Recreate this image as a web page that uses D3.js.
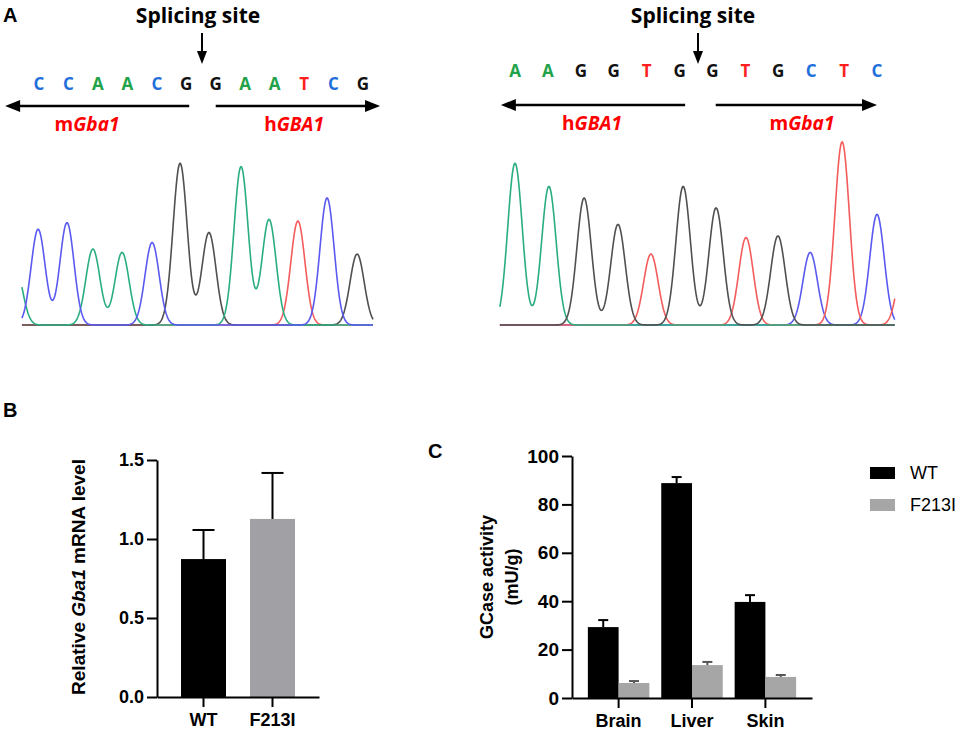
<!DOCTYPE html>
<html>
<head>
<meta charset="utf-8">
<script src="https://cdn.jsdelivr.net/npm/d3@7"></script>
<style>
  body { margin: 0; background: #fff; }
  svg { display: block; }
  .ax path, .ax line { stroke: #000; stroke-width: 2px; }
  .ax text { font-family: "Liberation Sans", Arial, sans-serif; font-weight: bold; fill: #000; }
</style>
</head>
<body>
<svg id="fig" width="962" height="731"></svg>
<script>
// ---- panel A: bases around the two junctions ----
const seqLeft = ["C","C","A","A","C","G","G","A","A","T","C","G"];
const seqRight = ["A","A","G","G","T","G","G","T","G","C","T","C"];
// peak centres (base units) and heights
const peakPosLeft = [-0.03, 0.95, 1.83, 2.82, 3.84, 4.79, 5.77, 6.86, 7.81, 8.79, 9.78, 10.8];
const peakHtLeft = [58, 62, 46, 44, 50, 98, 56, 96, 64, 63, 77, 43];
const peakPosRight = [0, 1.03, 2.1, 3.13, 4.13, 5.11, 6.11, 7.02, 7.99, 8.97, 9.94, 11.0];
const peakHtRight = [98, 84, 77, 61, 43, 84, 71, 53, 54, 44, 111, 67];
// peaks cut off by the edge of each trace
const edgeLeft = [{base: "A", pos: -0.8, ht: 35}];
const edgeRight = [{base: "T", pos: 11.85, ht: 43}];

// ---- panel B ----
const mrnaGroups = ["WT", "F213I"];
const mrnaMean = [0.873, 1.127];
const mrnaErr = [0.184, 0.291];
const mrnaTicks = [0, 0.5, 1.0, 1.5];

// ---- panel C ----
const tissues = ["Brain", "Liver", "Skin"];
const series = ["WT", "F213I"];
const gcaseWT = [29.3, 88.8, 39.7];
const gcaseWTErr = [2.9, 2.5, 2.8];
const gcaseMut = [6.2, 13.6, 8.7];
const gcaseMutErr = [0.8, 1.3, 0.8];
const gcaseTicks = [0, 20, 40, 60, 80, 100];

const svg = d3.select("#fig");
svg.append("rect").attr("width", 962).attr("height", 731).attr("fill", "#fff");

const letterColor = {A: "#22a34a", C: "#1f6fdc", G: "#111", T: "#ff1f1f"};
const traceColor = {A: "#2aae80", C: "#5a5af0", G: "#505050", T: "#f45c5c"};
const labelFont = "'Open Sans', sans-serif";
const axFont = "'Liberation Sans', Arial, sans-serif";

// panel letters
[["A", 3, 22], ["B", 3, 417], ["C", 428, 458]].forEach(function(p) {
    svg.append("text").attr("x", p[1]).attr("y", p[2]).text(p[0])
        .attr("font-family", axFont).attr("font-weight", "bold").attr("font-size", 20);
});

function seqPanel(o) {
    const g = svg.append("g");
    const x = o.x;
    const spliceX = x(5.5);

    g.append("text").attr("x", spliceX - 3).attr("y", 23).attr("text-anchor", "middle")
        .attr("font-family", labelFont).attr("font-weight", "bold").attr("font-size", 21)
        .text("Splicing site");

    // down arrow
    const ax = spliceX + o.arrowShift;
    g.append("line").attr("x1", ax).attr("x2", ax).attr("y1", 33).attr("y2", 54)
        .attr("stroke", "#000").attr("stroke-width", 2);
    g.append("path").attr("d", `M${ax - 5},51L${ax + 5},51L${ax},64Z`).attr("fill", "#000");

    // bases
    g.selectAll("text.base").data(o.seq).enter().append("text")
        .attr("class", "base")
        .attr("x", (d, i) => x(i)).attr("y", o.seqY)
        .attr("text-anchor", "middle")
        .attr("font-family", labelFont).attr("font-weight", "bold").attr("font-size", 17)
        .attr("fill", d => letterColor[d])
        .text(d => d);

    // direction arrows
    o.arrows.forEach(function(a) {
        const x0 = x(a[0]), tip = x(a[1]);
        const dir = tip > x0 ? 1 : -1;
        g.append("line").attr("x1", x0).attr("x2", tip - dir * 12).attr("y1", o.arrowY).attr("y2", o.arrowY)
            .attr("stroke", "#000").attr("stroke-width", 2.5);
        g.append("path")
            .attr("d", `M${tip},${o.arrowY}L${tip - dir * 15},${o.arrowY - 6}L${tip - dir * 15},${o.arrowY + 6}Z`)
            .attr("fill", "#000");
    });

    // gene labels
    o.genes.forEach(function(gn) {
        const t = g.append("text").attr("x", x(gn.pos)).attr("y", o.geneY).attr("text-anchor", "middle")
            .attr("font-family", labelFont).attr("font-weight", "bold").attr("font-size", 19)
            .attr("fill", "#ff0000");
        t.append("tspan").text(gn.pre);
        t.append("tspan").attr("font-style", "italic").text(gn.name);
    });

    // chromatogram
    const y = d3.scaleLinear().domain([0, 100]).range([325, 160]);
    const peaks = o.seq.map((b, i) => ({base: b, pos: o.pos[i], ht: o.ht[i]})).concat(o.edge);
    const xs = d3.range(o.span[0], o.span[1] + 0.0001, 0.02);
    const line = d3.line().x(d => x(d[0])).y(d => y(d[1]));
    o.order.forEach(function(b) {
        const pk = peaks.filter(p => p.base === b);
        const pts = xs.map(v => [v, d3.sum(pk, p => p.ht * Math.exp(-((v - p.pos) ** 2) / (2 * o.sigma * o.sigma)))]);
        g.append("path").attr("d", line(pts)).attr("fill", "none")
            .attr("stroke", traceColor[b]).attr("stroke-width", 1.6);
    });
}

seqPanel({
    seq: seqLeft, pos: peakPosLeft, ht: peakHtLeft, edge: edgeLeft,
    x: d3.scaleLinear().domain([0, 11]).range([39, 363]),
    arrowShift: 1, seqY: 90, arrowY: 106, geneY: 131,
    arrows: [[5.1, -1.15], [6.0, 11.58]],
    genes: [{pre: "m", name: "Gba1", pos: 1.63}, {pre: "h", name: "GBA1", pos: 8.66}],
    span: [-0.58, 11.34], sigma: 0.24, order: ["T", "G", "A", "C"]
});
seqPanel({
    seq: seqRight, pos: peakPosRight, ht: peakHtRight, edge: edgeRight,
    x: d3.scaleLinear().domain([0, 11]).range([515, 877]),
    arrowShift: 2, seqY: 77, arrowY: 105, geneY: 130,
    arrows: [[5.17, -0.43], [6.1, 11.0]],
    genes: [{pre: "h", name: "GBA1", pos: 2.34}, {pre: "m", name: "Gba1", pos: 8.72}],
    span: [-0.46, 11.55], sigma: 0.22, order: ["C", "T", "A", "G"]
});

// ---- panel B: relative mRNA ----
const yB = d3.scaleLinear().domain([0, 1.5]).range([697, 460]);
const xB = d3.scaleBand().domain(mrnaGroups).range([157, 319]).padding(0.348);
const gB = svg.append("g");
const colB = {WT: "#000", F213I: "#a0a0a5"};

gB.selectAll("rect.bar").data(mrnaGroups).enter().append("rect")
    .attr("x", d => xB(d)).attr("width", xB.bandwidth())
    .attr("y", (d, i) => yB(mrnaMean[i])).attr("height", (d, i) => yB(0) - yB(mrnaMean[i]))
    .attr("fill", d => colB[d]);
mrnaGroups.forEach(function(d, i) {
    const cx = xB(d) + xB.bandwidth() / 2;
    const top = yB(mrnaMean[i] + mrnaErr[i]);
    gB.append("line").attr("x1", cx).attr("x2", cx).attr("y1", yB(mrnaMean[i])).attr("y2", top)
        .attr("stroke", "#000").attr("stroke-width", 2);
    gB.append("line").attr("x1", cx - 11).attr("x2", cx + 11).attr("y1", top).attr("y2", top)
        .attr("stroke", "#000").attr("stroke-width", 2);
});
gB.append("g").attr("class", "ax").attr("transform", "translate(157,0)")
    .call(d3.axisLeft(yB).tickValues(mrnaTicks).tickFormat(d3.format(".1f")).tickSize(10).tickSizeOuter(0))
    .selectAll("text").attr("font-size", 18).attr("font-family", axFont);
gB.append("g").attr("class", "ax").attr("transform", "translate(0,697)")
    .call(d3.axisBottom(xB).tickSize(10).tickSizeOuter(0).tickPadding(6))
    .selectAll("text").attr("font-size", 18).attr("font-family", axFont);
const tB = gB.append("text").attr("transform", "translate(78,577) rotate(-90)")
    .attr("text-anchor", "middle").attr("dy", "0.35em")
    .attr("font-family", axFont).attr("font-weight", "bold").attr("font-size", 19);
tB.append("tspan").text("Relative ");
tB.append("tspan").attr("font-style", "italic").text("Gba1");
tB.append("tspan").text(" mRNA level");

// ---- panel C: GCase activity ----
const yC = d3.scaleLinear().domain([0, 100]).range([698, 456]);
const xC = d3.scaleBand().domain(tissues).range([572, 812]).paddingInner(0.162).paddingOuter(0.216);
const xS = d3.scaleBand().domain(series).range([0, xC.bandwidth()]);
const colC = {WT: "#000", F213I: "#a6a6a6"};
const gC = svg.append("g");
const cData = tissues.flatMap((t, i) => [
    {tissue: t, s: "WT", v: gcaseWT[i], e: gcaseWTErr[i]},
    {tissue: t, s: "F213I", v: gcaseMut[i], e: gcaseMutErr[i]}
]);
gC.selectAll("rect.bar").data(cData).enter().append("rect")
    .attr("x", d => xC(d.tissue) + xS(d.s)).attr("width", xS.bandwidth())
    .attr("y", d => yC(d.v)).attr("height", d => yC(0) - yC(d.v))
    .attr("fill", d => colC[d.s]);
cData.forEach(function(d) {
    const cx = xC(d.tissue) + xS(d.s) + xS.bandwidth() / 2;
    const top = yC(d.v + d.e);
    const ec = d.s === "WT" ? "#000" : "#555";
    gC.append("line").attr("x1", cx).attr("x2", cx).attr("y1", yC(d.v)).attr("y2", top)
        .attr("stroke", ec).attr("stroke-width", 2);
    gC.append("line").attr("x1", cx - 5).attr("x2", cx + 5).attr("y1", top).attr("y2", top)
        .attr("stroke", ec).attr("stroke-width", 2);
});
gC.append("g").attr("class", "ax").attr("transform", "translate(572,0)")
    .call(d3.axisLeft(yC).tickValues(gcaseTicks).tickSize(10).tickSizeOuter(0))
    .selectAll("text").attr("font-size", 19).attr("font-family", axFont);
gC.append("g").attr("class", "ax").attr("transform", "translate(0,698)")
    .call(d3.axisBottom(xC).tickSize(10).tickSizeOuter(0).tickPadding(6))
    .selectAll("text").attr("font-size", 18).attr("font-family", axFont);
[["GCase activity", 487], ["(mU/g)", 512]].forEach(function(l) {
    gC.append("text").attr("transform", `translate(${l[1]},577) rotate(-90)`)
        .attr("text-anchor", "middle").attr("dy", "0.35em")
        .attr("font-family", axFont).attr("font-weight", "bold").attr("font-size", 18)
        .text(l[0]);
});

// legend
const lg = svg.append("g").attr("transform", "translate(870,467)");
series.forEach(function(s, i) {
    lg.append("rect").attr("x", 0).attr("y", i * 32).attr("width", 25).attr("height", 12).attr("fill", colC[s]);
    lg.append("text").attr("x", 40).attr("y", i * 32 + 12).text(s)
        .attr("font-family", axFont).attr("font-size", 18);
});
</script>
</body>
</html>
